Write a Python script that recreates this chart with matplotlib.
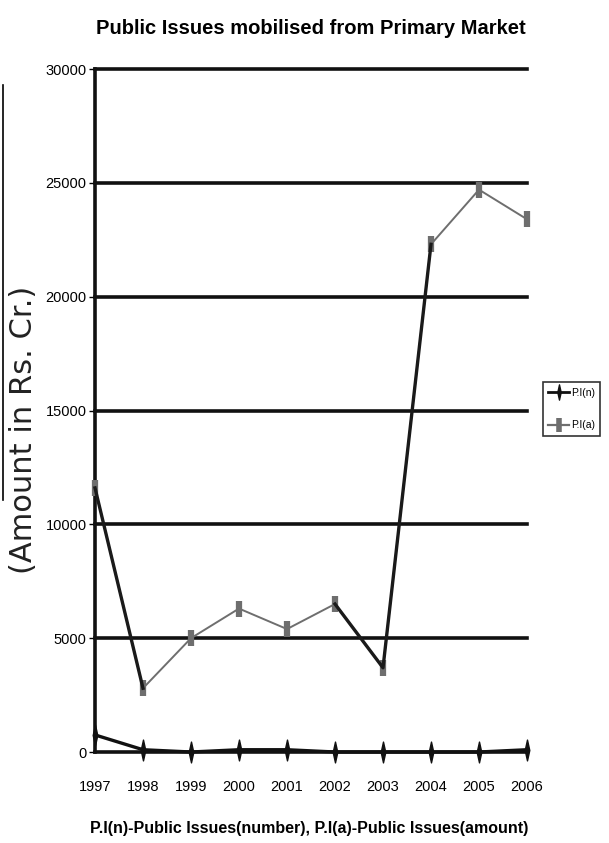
import numpy as np
import matplotlib
matplotlib.use("Agg")
import matplotlib.pyplot as plt
from matplotlib.path import Path
from matplotlib.lines import Line2D

years = ["1997", "1998", "1999", "2000", "2001", "2002", "2003", "2004", "2005", "2006"]
pi_n = [750, 100, 0, 100, 100, 0, 0, 0, 0, 100]
pi_a = [11600, 2800, 5000, 6300, 5400, 6500, 3700, 22300, 24700, 23400]
yticks = [0, 5000, 10000, 15000, 20000, 25000, 30000]

narrow = ["Liberation Sans", "DejaVu Sans"]

# thin tall diamond marker
diamond = Path([(0, -1), (0.22, 0), (0, 1), (-0.22, 0), (0, -1)],
               [Path.MOVETO, Path.LINETO, Path.LINETO, Path.LINETO, Path.CLOSEPOLY])

fig = plt.figure(figsize=(6.09, 8.43), dpi=100)
ax = fig.add_axes([95 / 609, 1 - 752 / 843, 432 / 609, 683 / 843])

x = np.arange(len(years))
ax.plot(x, pi_a, color="#6e6e6e", lw=1.4, marker="|", ms=12, mew=4.5, zorder=3, clip_on=False)
# some segments of the amount line are printed dark in the original
for seg in ([0, 1], [5, 6, 7]):
    ax.plot(x[seg], np.array(pi_a)[seg], color="#1a1a1a", lw=2.4, zorder=3, clip_on=False)
ax.plot(x, pi_n, color="#111111", lw=2.4, marker=diamond, ms=15, zorder=4, clip_on=False)

ax.set_xlim(0, len(years) - 1)
ax.set_ylim(0, 30000)
ax.set_yticks(yticks)
ax.set_yticklabels([str(v) for v in yticks], family=narrow, fontsize=10.5)
ax.set_xticks(x)
ax.set_xticklabels(years, family=narrow, fontsize=10.5)
for v in yticks:
    ax.axhline(v, color="#111111", lw=2.6, zorder=1, clip_on=False)
for s in ["top", "right", "bottom"]:
    ax.spines[s].set_visible(False)
ax.spines["left"].set_linewidth(2.6)
ax.spines["left"].set_color("#111111")
ax.tick_params(axis="y", length=4, width=1, pad=2)
ax.tick_params(axis="x", length=0, pad=20)

fig.text(311 / 609, 1 - 29 / 843, "Public Issues mobilised from Primary Market",
         ha="center", va="center", family=narrow, fontweight="bold", fontsize=14.5)
fig.text(309 / 609, 1 - 829 / 843, "P.I(n)-Public Issues(number), P.I(a)-Public Issues(amount)",
         ha="center", va="center", family=narrow, fontweight="bold", fontsize=11.5)
fig.text(24 / 609, 1 - 430 / 843, "(Amount in Rs. Cr.)", rotation=90,
         ha="center", va="center", family="DejaVu Sans", fontsize=22, color="#222222")
fig.add_artist(Line2D([3 / 609, 3 / 609], [1 - 85 / 843, 1 - 500 / 843], color="black", lw=1.2))

handles = [Line2D([], [], color="#111111", lw=2, marker=diamond, ms=11),
           Line2D([], [], color="#6e6e6e", lw=1.6, marker="|", ms=10, mew=4)]
leg = fig.legend(handles, ["P.I(n)", "P.I(a)"], loc="center left",
                 bbox_to_anchor=(543 / 609, 1 - 409 / 843), frameon=True, fancybox=False,
                 prop={"family": narrow, "size": 7.5}, handlelength=2.0, handletextpad=0.2,
                 borderpad=0.5, labelspacing=2.2, borderaxespad=0)
leg.get_frame().set_edgecolor("black")
leg.get_frame().set_linewidth(1.2)

fig.savefig("out.png", dpi=100)
